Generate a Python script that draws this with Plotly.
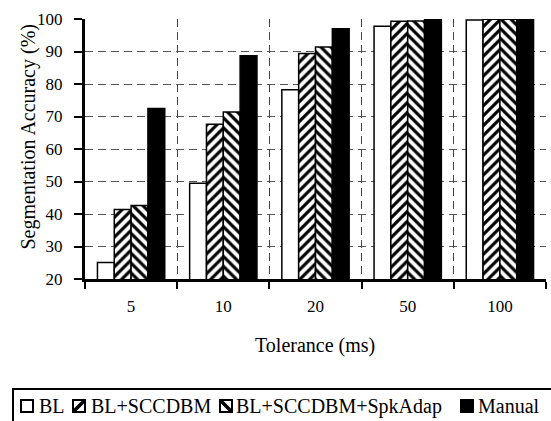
import plotly.graph_objects as go

tolerances = ["5", "10", "20", "50", "100"]
bl = [25.1, 49.5, 78.2, 97.8, 99.7]
bl_sccdbm = [41.4, 67.6, 89.4, 99.3, 99.9]
bl_sccdbm_spk = [42.6, 71.4, 91.4, 99.4, 99.9]
manual = [72.5, 88.7, 97.0, 100.0, 100.0]
series_names = ["BL", "BL+SCCDBM", "BL+SCCDBM+SpkAdap", "Manual"]

W, H = 551, 421
L, R, T, B = 85, 5, 19, 142
PW, PH = W - L - R, H - T - B
FONT = "Times New Roman, Liberation Serif, DejaVu Serif, serif"


def px(x):
    return (x - L) / PW


def py(y):
    return (H - B - y) / PH


line = dict(color="black", width=1.5)
fig = go.Figure()
fig.add_bar(x=tolerances, y=bl, name=series_names[0],
            marker=dict(color="white", line=line))
fig.add_bar(x=tolerances, y=bl_sccdbm, name=series_names[1],
            marker=dict(color="white", line=line,
                        pattern=dict(shape="/", size=7, solidity=0.45,
                                     fgcolor="black", bgcolor="white",
                                     fillmode="replace")))
fig.add_bar(x=tolerances, y=bl_sccdbm_spk, name=series_names[2],
            marker=dict(color="white", line=line,
                        pattern=dict(shape="\\", size=7, solidity=0.45,
                                     fgcolor="black", bgcolor="white",
                                     fillmode="replace")))
fig.add_bar(x=tolerances, y=manual, name=series_names[3],
            marker=dict(color="black", line=line))

fig.update_layout(
    width=W, height=H,
    margin=dict(l=L, r=R, t=T, b=B, pad=0),
    paper_bgcolor="white", plot_bgcolor="white",
    barmode="group", bargap=0.27, bargroupgap=0,
    showlegend=False,
    font=dict(family=FONT, size=17, color="black"),
)
fig.update_xaxes(
    type="category", tickson="boundaries",
    showline=True, linecolor="black", linewidth=3,
    ticks="outside", ticklen=7, tickwidth=2, tickcolor="black",
    showgrid=True, gridcolor="#444", gridwidth=1.2, griddash="8px,5px",
    ticklabelstandoff=10,
    tickfont=dict(family=FONT, size=17),
)
fig.update_yaxes(
    range=[20, 100], tickvals=[20, 30, 40, 50, 60, 70, 80, 90, 100],
    showline=True, linecolor="black", linewidth=3,
    ticks="outside", ticklen=8, tickwidth=2, tickcolor="black",
    showgrid=True, gridcolor="#555", gridwidth=1.2, griddash="8px,5px",
    zeroline=False, ticklabelstandoff=8,
    tickfont=dict(family=FONT, size=17),
)

annotations = [
    dict(text="Tolerance (ms)", x=px(314.5), y=py(345), xref="paper", yref="paper",
         showarrow=False, xanchor="center", yanchor="middle",
         font=dict(family=FONT, size=20)),
    dict(text="Segmentation Accuracy (%)", x=px(28), y=py(137.5), xref="paper", yref="paper",
         showarrow=False, xanchor="center", yanchor="middle", textangle=-90,
         font=dict(family=FONT, size=20)),
]
text_x = [37, 89, 234, 476]
for name, tx in zip(series_names, text_x):
    annotations.append(dict(text=name, x=px(tx), y=py(406), xref="paper", yref="paper",
                            showarrow=False, xanchor="left", yanchor="middle",
                            font=dict(family=FONT, size=20)))

shapes = [
    # legend frame
    dict(type="rect", xref="paper", yref="paper", x0=px(13), x1=px(556), y0=py(389), y1=py(430),
         line=dict(color="black", width=2), fillcolor="rgba(0,0,0,0)"),
]
sym_x = [21, 73, 220, 461]
for i, sx in enumerate(sym_x):
    fill = "black" if i == 3 else "white"
    shapes.append(dict(type="rect", xref="paper", yref="paper", x0=px(sx), x1=px(sx + 12),
                       y0=py(400), y1=py(412), line=dict(color="black", width=2), fillcolor=fill))
    if i == 1:
        shapes.append(dict(type="line", xref="paper", yref="paper", x0=px(sx), x1=px(sx + 12),
                           y0=py(412), y1=py(400), line=dict(color="black", width=3.5)))
    if i == 2:
        shapes.append(dict(type="line", xref="paper", yref="paper", x0=px(sx), x1=px(sx + 12),
                           y0=py(400), y1=py(412), line=dict(color="black", width=3.5)))

fig.update_layout(annotations=annotations, shapes=shapes)
fig.write_html("out.html")
